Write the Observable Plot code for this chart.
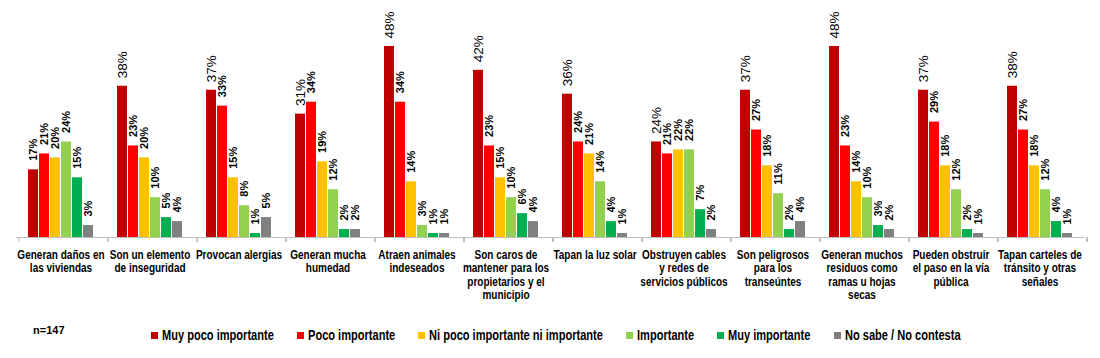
<!DOCTYPE html>
<html><head><meta charset="utf-8">
<script src="https://cdn.jsdelivr.net/npm/d3@7"></script>
<script src="https://cdn.jsdelivr.net/npm/@observablehq/plot@0.6"></script>
<style>
body{margin:0;background:#fff;width:1100px;height:358px;overflow:hidden;font-family:"Liberation Sans",Arial,sans-serif}
#chart svg{display:block;overflow:visible}
#foot{position:relative;height:48px}
#n{position:absolute;left:33px;top:14px;font-weight:bold;font-size:11px;color:#000}
#legend{position:absolute;left:151px;top:17px;display:flex;align-items:center;font-size:14px;font-weight:bold;color:#000}
.item{display:flex;align-items:center;margin-right:23px;white-space:nowrap}
.sw{width:7px;height:7px;margin-right:4px;flex:none}
.lt{display:inline-block;transform-origin:left center}
</style></head>
<body>
<div id="chart"></div>
<div id="foot"><div id="n"></div><div id="legend"></div></div>
<script>
const categories = [
  "Generan daños en\nlas viviendas",
  "Son un elemento\nde inseguridad",
  "Provocan alergias",
  "Generan mucha\nhumedad",
  "Atraen animales\nindeseados",
  "Son caros de\nmantener para los\npropietarios y el\nmunicipio",
  "Tapan la luz solar",
  "Obstruyen cables\ny redes de\nservicios públicos",
  "Son peligrosos\npara los\ntranseúntes",
  "Generan muchos\nresiduos como\nramas u hojas\nsecas",
  "Pueden obstruir\nel paso en la vía\npública",
  "Tapan carteles de\ntránsito y otras\nseñales"
];
const series = ["Muy poco importante","Poco importante","Ni poco importante ni importante","Importante","Muy importante","No sabe / No contesta"];
const colors = ["#C00000","#FF0000","#FFC000","#92D050","#00B050","#808080"];
const muyPoco    = [17,38,37,31,48,42,36,24,37,48,37,38];
const poco       = [21,23,33,34,34,23,24,21,27,23,29,27];
const niNi       = [20,20,15,19,14,15,21,22,18,14,18,18];
const importante = [24,10, 8,12, 3,10,14,22,11,10,12,12];
const muyImp     = [15, 5, 1, 2, 1, 6, 4, 7, 2, 3, 2, 4];
const nsnc       = [ 3, 4, 5, 2, 1, 4, 1, 2, 4, 2, 1, 1];
const sampleNote = "n=147";

const seriesValues = [muyPoco, poco, niNi, importante, muyImp, nsnc];
const rows = categories.flatMap((cat, i) => series.map((s, j) => ({cat, ci: i, series: s, si: j, value: seriesValues[j][i]})));
const big = d => d.si === 0 && d.ci > 0;

function boundaryTicks(index, scales, values, dimensions) {
  const g = d3.create("svg:g");
  const fx = scales.fx;
  let xs, bw;
  if (fx) {
    xs = categories.map(c => fx(c));
    bw = fx.bandwidth ? fx.bandwidth() : (xs[1] - xs[0]);
  } else {
    const w = dimensions.width - dimensions.marginLeft - dimensions.marginRight;
    bw = w / categories.length;
    xs = categories.map((c, i) => dimensions.marginLeft + i * bw);
  }
  xs.push(xs[xs.length - 1] + bw);
  const y0 = dimensions.height - dimensions.marginBottom;
  g.selectAll("line").data(xs).join("line")
    .attr("x1", d => d).attr("x2", d => d)
    .attr("y1", y0).attr("y2", y0 + 5)
    .attr("stroke", "#bfbfbf");
  return g.node();
}

const plot = Plot.plot({
  width: 1100, height: 310,
  marginLeft: 13, marginRight: 14, marginTop: 38, marginBottom: 73,
  style: {fontFamily: "Liberation Sans, Arial, sans-serif", background: "white", overflow: "visible", color: "#000"},
  fx: {domain: categories, padding: 0, label: null, axis: null},
  x: {domain: series, paddingInner: 0.1, paddingOuter: 0.82, axis: null},
  y: {domain: [0, 50], axis: null},
  color: {domain: series, range: colors},
  marks: [
    Plot.barY(rows, {fx: "cat", x: "series", y: "value", fill: "series"}),
    Plot.ruleY([0], {stroke: "#bfbfbf"}),
    Plot.text(rows, {filter: d => !big(d), fx: "cat", x: "series", y: "value", text: d => d.value + "%",
      rotate: -90, textAnchor: "start", lineAnchor: "middle", dy: -9, fontSize: 11, fontWeight: "bold", fill: "#000"}),
    Plot.text(rows, {filter: big, fx: "cat", x: "series", y: "value", text: d => d.value + "%",
      rotate: -90, textAnchor: "start", lineAnchor: "middle", dy: -8, fontSize: 13.5, fontWeight: "normal", fill: "#000"}),
    Plot.axisFx({anchor: "bottom", tickSize: 0, tickPadding: 12, fontSize: 13, fontWeight: "bold", lineHeight: 1.03,
      label: null, fill: "#000"}),
    boundaryTicks
  ]
});
// condense the category labels horizontally (the original uses a narrow face)
plot.querySelectorAll('g[aria-label="fx-axis tick label"] text').forEach(t => {
  const tr = t.getAttribute("transform") || "";
  t.setAttribute("transform", tr + " scale(0.77,1)");
});
document.getElementById("chart").append(plot);
document.getElementById("n").textContent = sampleNote;
const legend = document.getElementById("legend");
const squeeze = 0.79;
series.forEach((s, j) => {
  const it = document.createElement("div"); it.className = "item";
  const sw = document.createElement("span"); sw.className = "sw"; sw.style.background = colors[j];
  const t = document.createElement("span"); t.className = "lt"; t.textContent = s;
  t.style.transform = `scaleX(${squeeze})`;
  it.append(sw, t); legend.append(it);
  t.style.marginRight = (-t.offsetWidth * (1 - squeeze)) + "px";
});
</script>
</body></html>
